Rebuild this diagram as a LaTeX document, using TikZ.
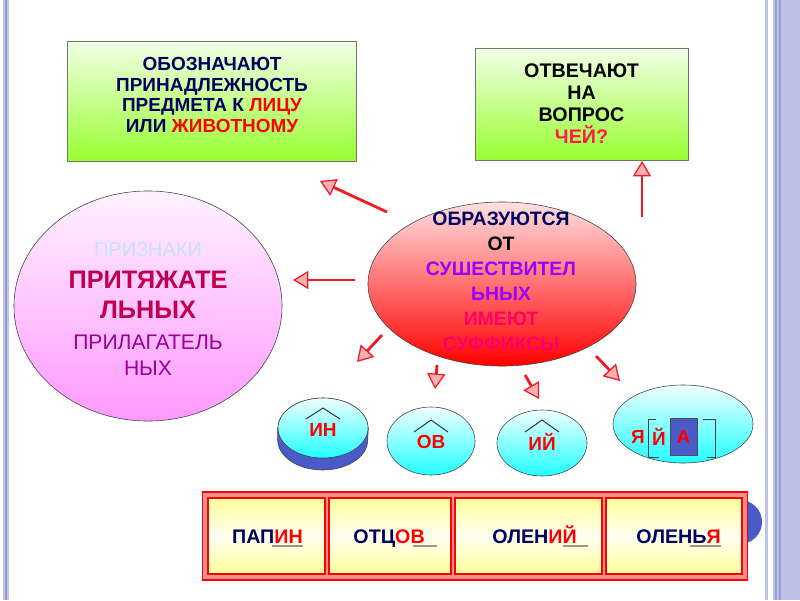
\documentclass[tikz,border=0pt]{standalone}
\usepackage{fontspec}
\setmainfont{Liberation Sans}
\usetikzlibrary{shapes.geometric,arrows.meta}

\definecolor{navy}{HTML}{00005E}
\definecolor{boxtop}{HTML}{F2FFE6}
\definecolor{boxbot}{HTML}{99FF33}
\definecolor{pinktop}{HTML}{FFF2FF}
\definecolor{pinkbot}{HTML}{FF99FF}
\definecolor{redtop}{HTML}{FFE0E0}
\definecolor{redbot}{HTML}{FF0000}
\definecolor{cyantop}{HTML}{F0FFFF}
\definecolor{cyanbot}{HTML}{22FFFF}
\definecolor{slab}{HTML}{4A5AC8}
\definecolor{arrred}{HTML}{EE1C24}
\definecolor{chei}{HTML}{FF1A4A}
\definecolor{lblue}{HTML}{C6E2F6}
\definecolor{crimson}{HTML}{C0004E}
\definecolor{plum}{HTML}{990099}
\definecolor{sushviolet}{HTML}{9900FF}
\definecolor{imeyut}{HTML}{FF0066}
\definecolor{celltop}{HTML}{FFFF99}
\definecolor{cellmid}{HTML}{FFFFF2}
\definecolor{frame}{HTML}{F49090}
\definecolor{ulgray}{HTML}{999988}
\definecolor{lav}{HTML}{BEC2E6}
\definecolor{lavdark}{HTML}{969EDA}

\newcommand{\fs}[2]{\fontsize{#1}{#2}\selectfont}

\begin{document}
\begin{tikzpicture}
	[
		x=0.025cm, y=-0.025cm,
		Box/.style={rectangle, draw=black!55, top color=boxtop, bottom color=boxbot, inner sep=0},
		Oval/.style={ellipse, draw=black!75, inner sep=0},
		Suffix/.style={Oval, top color=cyantop, bottom color=cyanbot},
		Cell/.style={rectangle, draw=red, line width=0.8pt, top color=celltop, bottom color=celltop, middle color=cellmid, minimum height=1.9cm},
		Arrow/.style={draw=arrred, line width=2pt, -{Triangle[length=11pt,width=13pt,line width=0.9pt,fill=arrred!35]}},
		Roof/.style={draw=black!80, line width=0.7pt},
		Ending/.style={draw=ulgray, line width=1.4pt}
	]
	\tikzstyle{Word} = [inner sep=0, font=\bfseries\fs{14}{16}, text=navy]
	\tikzstyle{Mark} = [inner sep=0, font=\bfseries\fs{13.5}{16}, text=red]

	\useasboundingbox[fill=white] (0,0) rectangle (800,600);
	% side stripes
	\fill[lav] (3,0) rectangle (9,600);
	\fill[lavdark] (5,0) rectangle (7,600);
	\fill[lav] (765,0) rectangle (768,600);
	\fill[lav] (773,0) rectangle (800,600);
	\fill[lavdark] (775,0) rectangle (777,600);
	\fill[lavdark] (779,0) rectangle (781,600);

	% top boxes
	\node [Box, minimum width=7.225cm, minimum height=3cm] (what) at (211.5,101) {};
	\node [align=center, text=navy, font=\bfseries\fs{13.5}{14.5}] (whattext) at (212,95)
		{ОБОЗНАЧАЮТ\\ПРИНАДЛЕЖНОСТЬ\\ПРЕДМЕТА К \textcolor{red}{ЛИЦУ}\\ИЛИ \textcolor{red}{ЖИВОТНОМУ}};
	\node [Box, minimum width=5.325cm, minimum height=2.8cm, align=center, font=\bfseries\fs{14}{15.6}] (question) at (581.5,104)
		{ОТВЕЧАЮТ\\НА\\ВОПРОС\\\textcolor{chei}{ЧЕЙ?}};

	% big ovals
	\node [Oval, minimum width=6.7cm, minimum height=5.75cm, top color=pinktop, bottom color=pinkbot] (signs) at (148,306) {};
	\node [font=\fs{14.2}{16}, text=lblue] (s1) at (148,250) {ПРИЗНАКИ};
	\node [font=\bfseries\fs{18}{21.3}, text=crimson, align=center] (s2) at (148,295) {ПРИТЯЖАТЕ\\ЛЬНЫХ};
	\node [font=\fs{15}{18.5}, text=plum, align=center] (s3) at (148,355) {ПРИЛАГАТЕЛЬ\\НЫХ};

	\node [Oval, minimum width=6.7cm, minimum height=4.1cm, top color=redtop, bottom color=redbot] (source) at (502,284) {};
	\node [font=\bfseries\fs{13.8}{17.8}, align=center] (sourcetext) at (501,281)
		{\textcolor{navy}{ОБРАЗУЮТСЯ}\\ОТ\\\textcolor{sushviolet}{СУШЕСТВИТЕЛ}\\\textcolor{sushviolet}{ЬНЫХ}\\\textcolor{imeyut}{ИМЕЮТ}\\\textcolor{imeyut}{СУФФИКСЫ}};

	% suffix ovals
	\node [Suffix, minimum width=2.25cm, minimum height=1.5cm] (in) at (323,428) {};
	\filldraw[fill=slab, draw=black!75] (in.west) ++(0,12) arc[start angle=180, end angle=0, x radius=45, y radius=30] -- (in.east) -- (in.west) -- cycle;
	\node [Suffix, minimum width=2.25cm, minimum height=1.5cm] (in) at (323,428) {};
	\node [Mark] (intext) at (323,430) {ИН};
	\draw[Roof] (intext.center) ++(-17,-11) -- ++(17,-11) -- ++(17,11);

	\node [Suffix, minimum width=2.2cm, minimum height=1.7cm] (ov) at (431,441) {};
	\node [Mark] (ovtext) at (431,442) {ОВ};
	\draw[Roof] (ovtext.center) ++(-17,-10) -- ++(17,-12) -- ++(17,12);

	\node [Suffix, minimum width=2.25cm, minimum height=1.65cm] (iy) at (542,443) {};
	\node [Mark] (iytext) at (542,442) {ИЙ};
	\draw[Roof] (iytext.center) ++(-17,-10) -- ++(17,-12) -- ++(17,12);

	\node [Suffix, minimum width=3.5cm, minimum height=1.95cm] (ya) at (683,424) {};
	\node [Mark, rectangle, fill=slab, draw=black!70, minimum width=0.675cm, minimum height=0.925cm] (abox) at (683.5,437) {А};
	\node [Mark] (yatext) at (638,437) {Я};
	\node [Mark] (ytext) at (659,437) {Й};
	\draw[draw=black!75] (abox.west) ++(-14,-18) -- ++(-7,0) -- ++(0,38) -- ++(10,0);
	\draw[draw=black!75] (abox.east) ++(6,-18) -- ++(12,0) -- ++(0,38) -- ++(-8,0);

	% arrows
	\coordinate (a1) at (387,212); \coordinate (b1) at (320,181);
	\coordinate (a2) at (355,280); \coordinate (b2) at (293,280);
	\coordinate (a3) at (642,217); \coordinate (b3) at (642,161);
	\coordinate (a4) at (382,335); \coordinate (b4) at (357,362);
	\coordinate (a5) at (437,365); \coordinate (b5) at (435,389);
	\coordinate (a6) at (525,375); \coordinate (b6) at (539,399);
	\coordinate (a7) at (596,356); \coordinate (b7) at (620,381);
	\draw[Arrow] (a1) -- (b1);
	\draw[Arrow] (a2) -- (b2);
	\draw[Arrow] (a3) -- (b3);
	\draw[Arrow] (a4) -- (b4);
	\draw[Arrow] (a5) -- (b5);
	\draw[Arrow] (a6) -- (b6);
	\draw[Arrow] (a7) -- (b7);

	% examples row
	\fill[slab] (740,522) circle[radius=22];
	\node [rectangle, fill=frame, draw=red, line width=0.8pt, minimum width=13.6cm, minimum height=2.2cm] (row) at (475,536) {};
	\node [Cell, minimum width=2.925cm] (c1) at (266.5,536) {};
	\node [Cell, minimum width=3.05cm] (c2) at (390,536) {};
	\node [Cell, minimum width=3.675cm] (c3) at (528.5,536) {};
	\node [Cell, minimum width=3.4cm] (c4) at (674,536) {};
	\node [Word, anchor=base east] (w1) at (303,543) {ПАП\textcolor{red}{ИН}};
	\node [Word, anchor=base east] (w2) at (425,543) {ОТЦ\textcolor{red}{ОВ}};
	\node [Word, anchor=base east] (w3) at (577,543) {ОЛЕН\textcolor{red}{ИЙ}};
	\node [Word, anchor=base east] (w4) at (721,543) {ОЛЕНЬ\textcolor{red}{Я}};
	\draw[Ending] (w1.base east) ++(-31,3) -- ++(31,0);
	\draw[Ending] (w2.base east) ++(-12,3) -- ++(24,0);
	\draw[Ending] (w3.base east) ++(-14,3) -- ++(25,0);
	\draw[Ending] (w4.base east) ++(-31,3) -- ++(31,0);
\end{tikzpicture}
\end{document}
